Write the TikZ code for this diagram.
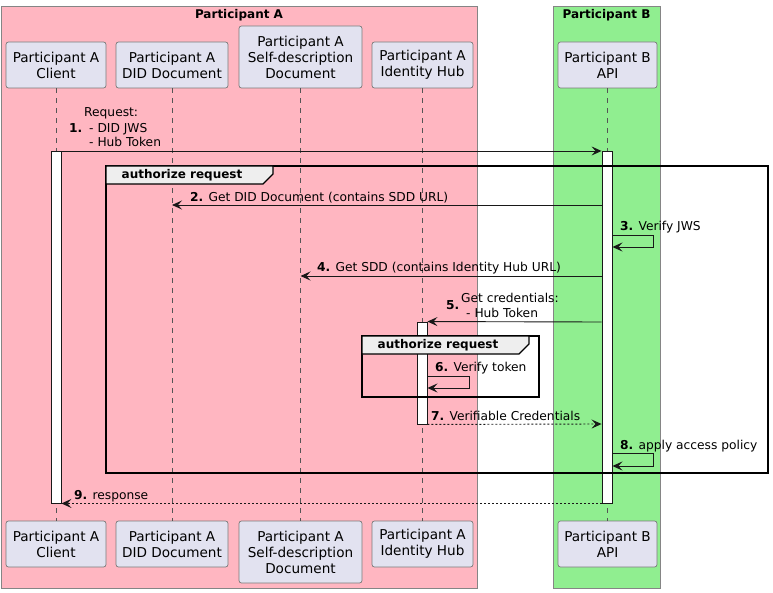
\documentclass[tikz,border=0pt]{standalone}
\usepackage{fontspec}
\setmainfont{DejaVu Sans}
\usetikzlibrary{arrows.meta}
\definecolor{pinkbg}{HTML}{FFB6C1}
\definecolor{greenbg}{HTML}{90EE90}
\definecolor{headfill}{HTML}{E2E2F0}
\definecolor{headdraw}{HTML}{7A7A7A}
\definecolor{lifecol}{HTML}{555555}
\definecolor{tabfill}{HTML}{EEEEEE}
\definecolor{grpdraw}{HTML}{858585}
\definecolor{ink}{HTML}{181818}
\tikzset{
  grpbox/.style={draw=grpdraw, line width=0.8pt},
  grptitle/.style={font=\fontsize{12}{14}\bfseries\selectfont, inner sep=0pt},
  head/.style={draw=headdraw, fill=headfill, line width=0.7pt, rounded corners=2.5pt,
    align=center, inner sep=0pt, minimum height=46pt,
    font=\fontsize{13.6}{16}\selectfont},
  life/.style={draw=lifecol, line width=0.6pt, dash pattern=on 5pt off 5pt},
  actbar/.style={draw=ink, fill=white, line width=0.9pt, minimum width=10pt, inner sep=0pt},
  frameline/.style={draw=black, line width=1.4pt},
  tablbl/.style={font=\fontsize{12}{14}\bfseries\selectfont, inner sep=0pt},
  msg/.style={draw=ink, line width=0.9pt, -{Stealth[length=10pt,width=9pt,inset=4pt]}},
  rmsg/.style={msg, dash pattern=on 2pt off 2pt},
  lbl/.style={anchor=base west, inner sep=0pt, font=\fontsize{12.25}{15}\selectfont},
}
\begin{document}
\begin{tikzpicture}[x=1pt,y=-1pt]
\useasboundingbox (0,0) rectangle (773,593);
% participant groups
\path[grpbox, fill=pinkbg] (1,6) rectangle (477,588);
\path[grpbox, fill=greenbg] (553,6) rectangle (660,588);
\node[grptitle] (tA) at (239,15) {Participant A};
\node[grptitle] (tB) at (606.5,15) {Participant B};
% heads top
\node[head, minimum width=100pt] (hC) at (56,65) {Participant A\\Client};
\node[head, minimum width=112pt] (hD) at (172,65) {Participant A\\DID Document};
\node[head, minimum width=123pt, minimum height=62pt] (hS) at (300.5,57) {Participant A\\Self-description\\Document};
\node[head, minimum width=101pt] (hH) at (422.5,65) {Participant A\\Identity Hub};
\node[head, minimum width=99pt] (hB) at (607.5,65) {Participant B\\API};
% heads bottom
\node[head, minimum width=100pt] (bC) at (56,544) {Participant A\\Client};
\node[head, minimum width=112pt] (bD) at (172,544) {Participant A\\DID Document};
\node[head, minimum width=123pt, minimum height=62pt] (bS) at (300.5,552) {Participant A\\Self-description\\Document};
\node[head, minimum width=101pt] (bH) at (422.5,544) {Participant A\\Identity Hub};
\node[head, minimum width=99pt] (bB) at (607.5,544) {Participant B\\API};
% lifelines
\draw[life] (hC.south) -- (bC.north);
\draw[life] (hD.south) -- (bD.north);
\draw[life] (hS.south) -- (bS.north);
\draw[life] (hH.south) -- (bH.north);
\draw[life] (hB.south) -- (bB.north);
% activations
\node[actbar, minimum height=352pt] (aC) at (56,327) {};
\node[actbar, minimum height=352pt] (aB) at (607,327) {};
\node[actbar, minimum height=102pt] (aH) at (422,373) {};
% outer group frame
\draw[frameline] (106,166) rectangle (768,473);
\draw[frameline, fill=tabfill] (106,166) -- (273,166) -- (273,174) -- (263,184) -- (106,184) -- cycle;
\node[tablbl] (g1) at (182,175.5) {authorize request};
% inner group frame
\draw[frameline] (362,336) rectangle (539,397);
\draw[frameline, fill=tabfill] (362,336) -- (529,336) -- (529,344) -- (519,354) -- (362,354) -- cycle;
\node[tablbl] (g2) at (438,345.5) {authorize request};
% messages
\draw[msg] (aC.east |- 0,151) -- (aB.west |- 0,151);
\node[lbl] (m1a) at (84,117) {Request:};
\node[lbl] (m1n) at (69,133) {\textbf{1.}};
\node[lbl] (m1b) at (89,133) {- DID JWS};
\node[lbl] (m1c) at (89,147) {- Hub Token};
\draw[msg] (aB.west |- 0,205) -- (hD.south |- 0,205);
\node[lbl] (m2) at (190,202) {\textbf{2.} Get DID Document (contains SDD URL)};
\draw[msg] (aB.east |- 0,235) -- (653,235) -- (653,247) -- (aB.east |- 0,247);
\node[lbl] (m3) at (620,231) {\textbf{3.} Verify JWS};
\draw[msg] (aB.west |- 0,276) -- (hS.south |- 0,276);
\node[lbl] (m4) at (317,272) {\textbf{4.} Get SDD (contains Identity Hub URL)};
\draw[msg] (aB.west |- 0,322) -- (aH.north east);
\node[lbl] (m5n) at (446,310) {\textbf{5.}};
\node[lbl] (m5a) at (461,302) {Get credentials:};
\node[lbl] (m5b) at (466,317) {- Hub Token};
\draw[msg] (aH.east |- 0,376) -- (469,376) -- (469,388) -- (aH.east |- 0,388);
\node[lbl] (m6) at (435,371) {\textbf{6.} Verify token};
\draw[rmsg] (aH.south east) -- (aB.west |- 0,424);
\node[lbl] (m7) at (431,420) {\textbf{7.} Verifiable Credentials};
\draw[msg] (aB.east |- 0,453) -- (653,453) -- (653,466) -- (aB.east |- 0,466);
\node[lbl] (m8) at (620,449) {\textbf{8.} apply access policy};
\draw[rmsg] (aB.south west) -- (aC.south east);
\node[lbl] (m9) at (74,499) {\textbf{9.} response};
\end{tikzpicture}
\end{document}
